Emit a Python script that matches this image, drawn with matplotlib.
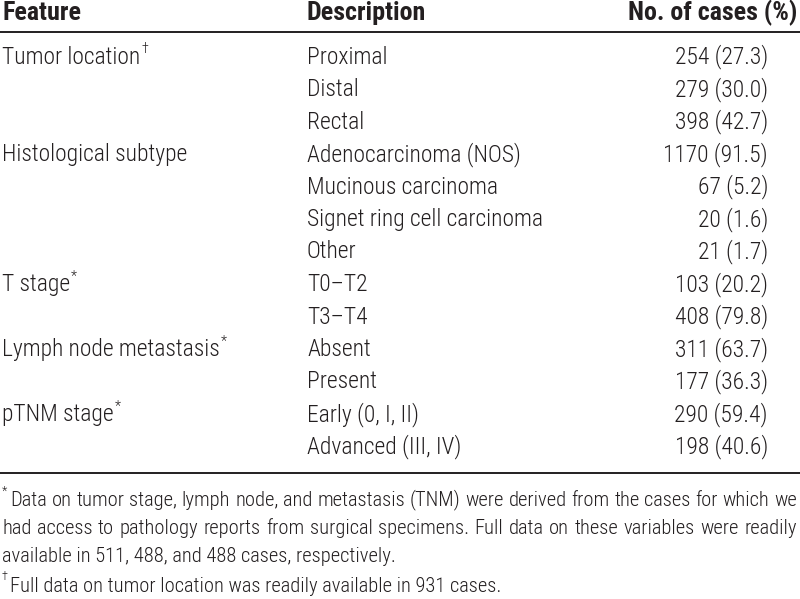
import matplotlib
matplotlib.use("Agg")
import matplotlib.pyplot as plt
from matplotlib import font_manager

# table content
features = ["Tumor location", "", "", "Histological subtype", "", "", "",
            "T stage", "", "Lymph node metastasis", "", "pTNM stage", ""]
feature_marks = ["\u2020", "", "", "", "", "", "", "*", "", "*", "", "*", ""]
descriptions = ["Proximal", "Distal", "Rectal", "Adenocarcinoma (NOS)",
                "Mucinous carcinoma", "Signet ring cell carcinoma", "Other",
                "T0\u2013T2", "T3\u2013T4", "Absent", "Present",
                "Early (0, I, II)", "Advanced (III, IV)"]
counts = [254, 279, 398, 1170, 67, 20, 21, 103, 408, 311, 177, 290, 198]
percents = [27.3, 30.0, 42.7, 91.5, 5.2, 1.6, 1.7, 20.2, 79.8, 63.7, 36.3, 59.4, 40.6]
headers = ["Feature", "Description", "No. of cases (%)"]
footnote_marks = ["*", "", "", "\u2020"]
footnote_lines = [
    "Data on tumor stage, lymph node, and metastasis (TNM) were derived from the cases for which we",
    "had access to pathology reports from surgical specimens. Full data on these variables were readily",
    "available in 511, 488, and 488 cases, respectively.",
    "Full data on tumor location was readily available in 931 cases.",
]
footnote_justify = [True, True, False, False]

# pick a condensed sans close to the Helvetica Condensed of the original
names = {f.name for f in font_manager.fontManager.ttflist}
stretch = "normal"
for cand in ["Liberation Sans Narrow", "Nimbus Sans Narrow", "Roboto Condensed",
             "Archivo Narrow"]:
    if cand in names:
        family = cand
        break
else:
    family = "DejaVu Sans"
    stretch = "condensed"
plt.rcParams["font.family"] = [family, "DejaVu Sans"]
plt.rcParams["font.stretch"] = stretch

W, H = 800, 599
fig = plt.figure(figsize=(8, 5.99), dpi=100)
ax = fig.add_axes([0, 0, 1, 1])
ax.set_xlim(0, W)
ax.set_ylim(H, 0)
ax.axis("off")
fig.canvas.draw()
renderer = fig.canvas.get_renderer()
tc = "#231f20"
bw = "light"


def text_width(s, size, **kw):
    t = ax.text(0, 0, s, fontsize=size, **kw)
    w = t.get_window_extent(renderer=renderer).width
    t.remove()
    return w


# calibrate font sizes against widths measured on the reference
fs = 5 * (210 / text_width("Adenocarcinoma (NOS)", 10, fontweight=bw)
          + 241 / text_width("Signet ring cell carcinoma", 10, fontweight=bw))
hfs = 10 * 170 / text_width("No. of cases (%)", 10, fontweight="bold")
fn_fs = 10 * 785 / text_width(footnote_lines[0], 10, fontweight=bw)


def sup_after(t, y, mark, size):
    bb = t.get_window_extent(renderer=renderer).transformed(ax.transData.inverted())
    ax.text(bb.x1 + 1, y - 8, mark, fontsize=size * 0.6, va="center", color=tc,
            fontweight=bw)


# header
ax.text(2, 13, headers[0], fontsize=hfs, fontweight="bold", va="center", color=tc)
ax.text(307, 13, headers[1], fontsize=hfs, fontweight="bold", va="center", color=tc)
ax.text(797, 13, headers[2], fontsize=hfs, fontweight="bold", va="center",
        ha="right", color=tc)
ax.plot([0, W], [32, 32], color=tc, lw=1.4, solid_capstyle="butt")

y0, dy = 57, 32.5
for i, desc in enumerate(descriptions):
    y = y0 + i * dy
    if features[i]:
        t = ax.text(2, y, features[i], fontsize=fs, va="center", color=tc, fontweight=bw)
        if feature_marks[i]:
            sup_after(t, y, feature_marks[i], fs)
    ax.text(307, y, desc, fontsize=fs, va="center", color=tc, fontweight=bw)
    ax.text(768, y, f"{counts[i]} ({percents[i]:.1f})", fontsize=fs,
            va="center", ha="right", color=tc, fontweight=bw)

ax.plot([0, W], [473, 473], color=tc, lw=1.4, solid_capstyle="butt")

# footnotes, first two lines justified word by word
fn_y = [500, 529, 557, 586]
for mark, line, justify, y in zip(footnote_marks, footnote_lines, footnote_justify, fn_y):
    x_start = 2
    if mark:
        ax.text(2, y - 9, mark, fontsize=fn_fs * 0.6, va="center", color=tc, fontweight=bw)
        x_start = 10
    if not justify:
        ax.text(x_start, y, line, fontsize=fn_fs, va="center", color=tc, fontweight=bw)
        continue
    words = line.split(" ")
    widths = [text_width(w, fn_fs, fontweight=bw) for w in words]
    gap = (W - 3 - x_start - sum(widths)) / (len(words) - 1)
    x = x_start
    for w, wd in zip(words, widths):
        ax.text(x, y, w, fontsize=fn_fs, va="center", color=tc, fontweight=bw)
        x += wd + gap

fig.savefig("out.png", dpi=100, facecolor="white")
